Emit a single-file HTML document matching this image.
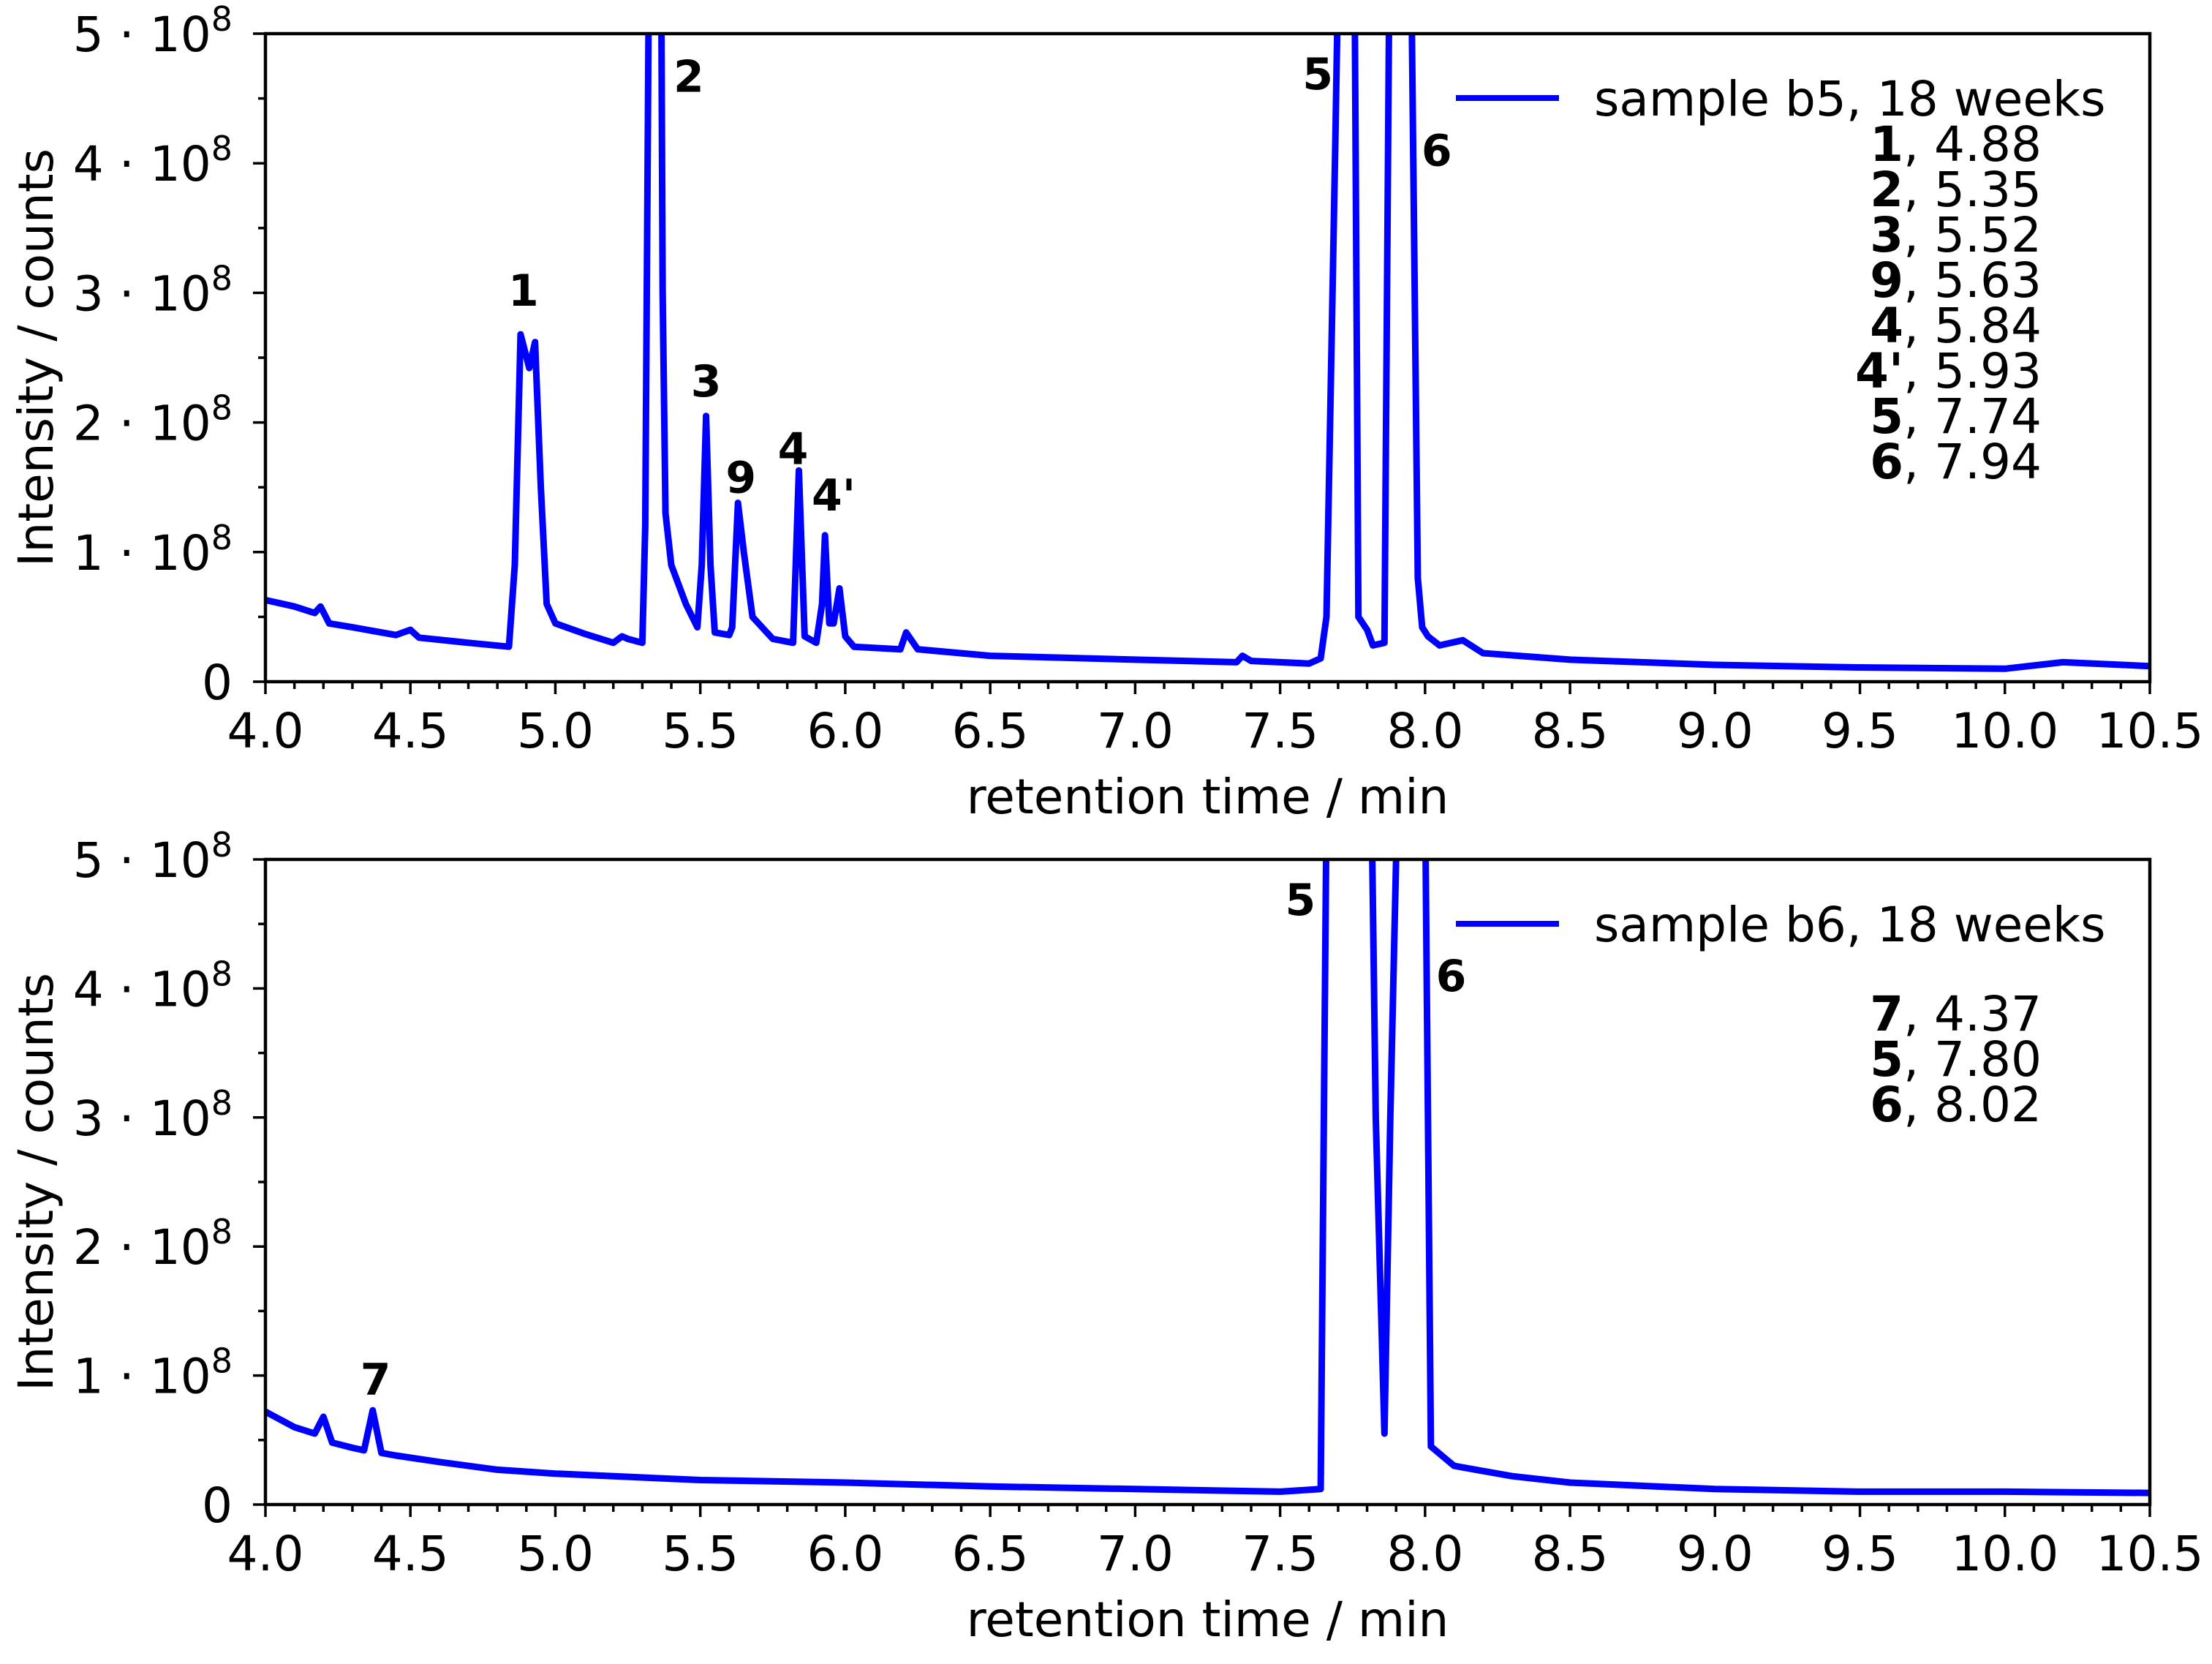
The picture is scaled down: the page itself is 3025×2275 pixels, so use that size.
<!DOCTYPE html>
<html><head><meta charset="utf-8"><style>
html,body{margin:0;padding:0;background:#fff}
svg{display:block}
text{font-family:"DejaVu Sans","Liberation Sans",sans-serif;fill:#000}
</style></head><body>
<svg id="fig" width="3025" height="2275" viewBox="0 0 3025 2275" xmlns="http://www.w3.org/2000/svg"></svg>
<script>
// ---- data (retention time in min, intensity in 1e8 counts) ----
const topTimes = [4.0,4.1,4.17,4.19,4.22,4.3,4.45,4.5,4.53,4.7,4.84,4.86,4.88,4.91,4.93,4.95,4.97,5.0,5.1,5.2,5.23,5.25,5.3,5.31,5.33,5.36,5.37,5.38,5.4,5.45,5.49,5.505,5.52,5.535,5.55,5.6,5.61,5.63,5.65,5.68,5.75,5.82,5.84,5.86,5.9,5.92,5.93,5.945,5.96,5.98,6.0,6.03,6.19,6.21,6.25,6.5,7.0,7.35,7.37,7.4,7.6,7.64,7.66,7.69,7.72,7.75,7.77,7.8,7.82,7.86,7.885,7.94,7.975,7.99,8.01,8.05,8.13,8.2,8.5,9.0,9.5,10.0,10.2,10.5];
const topValues = [0.63,0.58,0.53,0.58,0.45,0.42,0.36,0.40,0.34,0.30,0.27,0.9,2.68,2.42,2.62,1.5,0.6,0.45,0.37,0.30,0.35,0.33,0.30,1.2,8.0,8.0,3.0,1.3,0.9,0.6,0.42,0.9,2.05,0.9,0.38,0.36,0.42,1.38,1.0,0.5,0.33,0.30,1.63,0.35,0.30,0.6,1.13,0.45,0.45,0.72,0.35,0.27,0.25,0.38,0.25,0.20,0.17,0.15,0.2,0.16,0.14,0.18,0.5,4.1,8.0,8.0,0.5,0.4,0.28,0.3,8.0,8.0,0.8,0.42,0.35,0.28,0.32,0.22,0.17,0.13,0.11,0.10,0.15,0.12];
const botTimes = [4.0,4.1,4.17,4.2,4.23,4.3,4.34,4.37,4.4,4.45,4.6,4.8,5.0,5.5,6.0,6.5,7.0,7.5,7.64,7.67,7.72,7.8,7.83,7.86,7.88,7.93,7.99,8.02,8.1,8.3,8.5,9.0,9.5,10.0,10.5];
const botValues = [0.72,0.6,0.55,0.68,0.48,0.44,0.42,0.73,0.4,0.38,0.33,0.27,0.24,0.19,0.17,0.14,0.12,0.10,0.12,8.0,8.0,8.0,3.0,0.55,3.0,8.0,8.0,0.45,0.30,0.22,0.17,0.12,0.10,0.10,0.09];
const xTicks = [4.0,4.5,5.0,5.5,6.0,6.5,7.0,7.5,8.0,8.5,9.0,9.5,10.0,10.5];
const xTickLabels = ["4.0","4.5","5.0","5.5","6.0","6.5","7.0","7.5","8.0","8.5","9.0","9.5","10.0","10.5"];
const yTicks = [0,1,2,3,4,5];
const topPeakLabels = ["1","2","3","9","4","4'","5","6"];
const topPeakLabelT = [4.89,5.46,5.52,5.64,5.82,5.96,7.63,8.04];
const topPeakLabelV = [2.9,4.55,2.2,1.46,1.68,1.32,4.57,3.98];
const botPeakLabels = ["5","6","7"];
const botPeakLabelT = [7.57,8.09,4.38];
const botPeakLabelV = [4.57,3.98,0.85];
const topLegendIds = ["1","2","3","9","4","4'","5","6"];
const topLegendRT = ["4.88","5.35","5.52","5.63","5.84","5.93","7.74","7.94"];
const botLegendIds = ["7","5","6"];
const botLegendRT = ["4.37","7.80","8.02"];

const NS="http://www.w3.org/2000/svg";
const svg=document.getElementById('fig');
function mk(tag,attrs,parent){const e=document.createElementNS(NS,tag);for(const k in attrs)e.setAttribute(k,attrs[k]);(parent||svg).appendChild(e);return e;}
const L=363,R=2940;
const xs=t=>L+(t-4.0)/6.5*(R-L);

function panel(idx,top,bot,times,vals,pl,plT,plV,legName,legIds,legRT){
  const ys=v=>bot-v/5*(bot-top);
  const g=mk('g',{});
  
  
  const cp=mk('clipPath',{id:'clip'+idx},g);
  mk('rect',{x:L,y:top,width:R-L,height:bot-top},cp);
  let d='';
  for(let i=0;i<times.length;i++){d+=(i?'L':'M')+xs(times[i]).toFixed(1)+' '+ys(vals[i]).toFixed(1);}
  const p=mk('path',{d:d,fill:'none',stroke:'#0000ff','stroke-width':9,'stroke-linejoin':'round','clip-path':'url(#clip'+idx+')'},g);
  
  
  const fr=mk('rect',{x:L,y:top,width:R-L,height:bot-top,fill:'none',stroke:'#000','stroke-width':4.5},g);
  
  
  for(let k=0;k<=65;k++){const t=4+k*0.1;const x=xs(t);const major=(k%5===0);
    mk('line',{x1:x,x2:x,y1:bot,y2:bot+(major?17:10),stroke:'#000','stroke-width':3.5},g);}
  for(let i=0;i<xTicks.length;i++){
    const tx=mk('text',{x:xs(xTicks[i]),y:bot+90,'text-anchor':'middle','font-size':66},g);
    tx.textContent=xTickLabels[i];
    
    
  }
  for(let k=0;k<=10;k++){const v=k*0.5;const y=ys(v);const major=(k%2===0);
    mk('line',{x1:L,x2:L-(major?17:10),y1:y,y2:y,stroke:'#000','stroke-width':3.5},g);}
  for(const v of yTicks){
    const tx=mk('text',{x:318,y:ys(v)+24,'text-anchor':'end','font-size':66},g);
    
    
    if(v===0){tx.textContent='0';}
    else{
      const a=mk('tspan',{},tx);a.textContent=v+' \u00B7 10';
      const b=mk('tspan',{dy:-28,'font-size':46},tx);b.textContent='8';
    }
  }
  const xt=mk('text',{x:(L+R)/2,y:bot+180,'text-anchor':'middle','font-size':66},g);
  xt.textContent='retention time / min';
  
  
  const cy=(top+bot)/2;
  const yt=mk('text',{x:72,y:cy,'text-anchor':'middle','font-size':66,transform:'rotate(-90 72 '+cy+')'},g);
  yt.textContent='Intensity / counts';
  
  
  for(let i=0;i<pl.length;i++){
    const tx=mk('text',{x:xs(plT[i]),y:ys(plV[i]),'text-anchor':'middle','font-size':60,'font-weight':'bold'},g);
    tx.textContent=pl[i];
    
    
  }
  const ll=mk('line',{x1:1991,x2:2132,y1:top+88,y2:top+88,stroke:'#0000ff','stroke-width':8},g);
  
  
  const lt=mk('text',{x:2180,y:top+112,'font-size':66},g);
  lt.textContent=legName;
  
  
  const startY = idx===1 ? top+174 : top+234;
  for(let i=0;i<legIds.length;i++){
    const tx=mk('text',{x:2792,y:startY+i*62,'text-anchor':'end','font-size':66},g);
    const a=mk('tspan',{'font-weight':'bold'},tx);a.textContent=legIds[i];
    const b=mk('tspan',{},tx);b.textContent=', '+legRT[i];
    
    
  }
}
panel(1,46,932,topTimes,topValues,topPeakLabels,topPeakLabelT,topPeakLabelV,'sample b5, 18 weeks',topLegendIds,topLegendRT);
panel(2,1175,2057,botTimes,botValues,botPeakLabels,botPeakLabelT,botPeakLabelV,'sample b6, 18 weeks',botLegendIds,botLegendRT);
</script>
</body></html>
